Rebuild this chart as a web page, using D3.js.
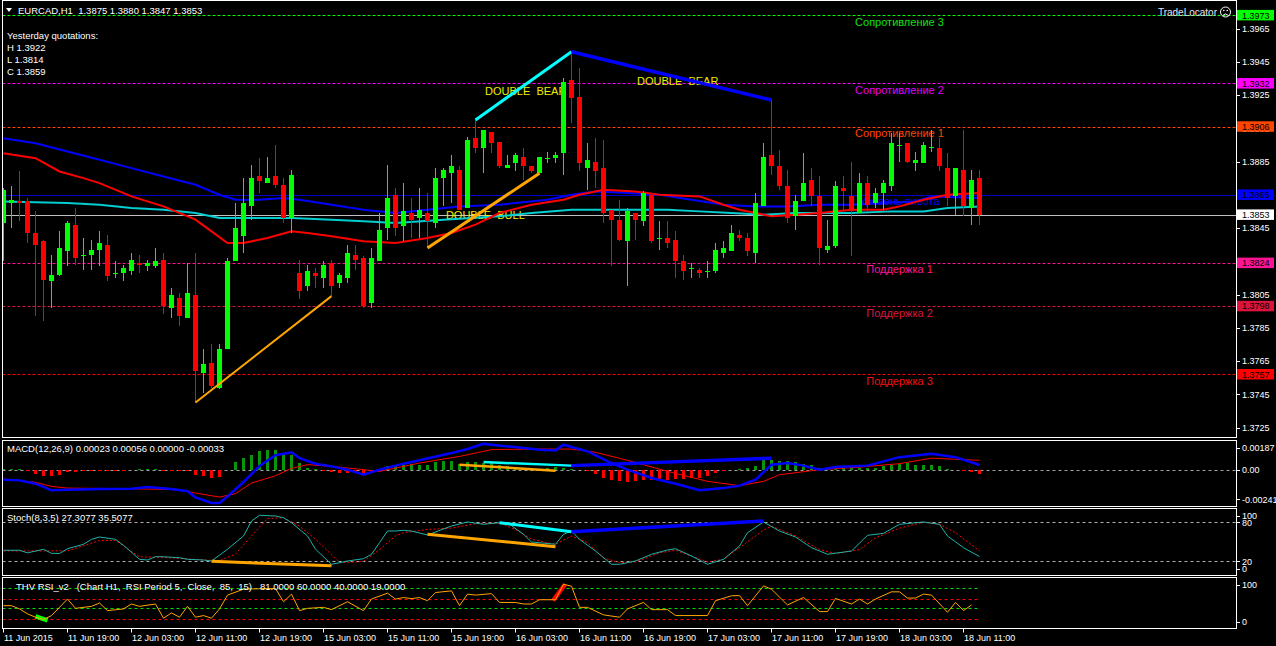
<!DOCTYPE html>
<html><head><meta charset="utf-8">
<script src="https://cdn.jsdelivr.net/npm/d3@7"></script>
<style>
html,body{margin:0;padding:0;background:#000;}
svg{display:block;}
text{font-family:"Liberation Sans",Arial,sans-serif;}
</style></head><body>
<svg id="c" width="1276" height="646"></svg>
<script>
// ---------------- DATA ----------------
const symbolTitle = "EURCAD,H1";
const opens = [1.3848,1.3860,1.3861,1.3861,1.3842,1.3837,1.3813,1.3817,1.3831,1.3847,
1.3829,1.3829,1.3832,1.3835,1.3818,1.3818,1.3819,1.3824,1.3822,1.3822,
1.3826,1.3797,1.3803,1.3791,1.3805,1.3758,1.3764,1.3749,1.3772,1.3825,
1.3840,1.3858,1.3876,1.3872,1.3876,1.3871,1.3851,1.3818,1.3810,1.3818,
1.3815,1.3824,1.3812,1.3815,1.3829,1.3827,1.3800,1.3825,1.3845,1.3865,
1.3846,1.3854,1.3851,1.3854,1.3848,1.3875,1.3878,1.3880,1.3857,1.3899,
1.3893,1.3903,1.3897,1.3881,1.3884,1.3888,1.3882,1.3878,1.3887,1.3887,
1.3890,1.3934,1.3924,1.3881,1.3885,1.3881,1.3856,1.3850,1.3837,1.3854,
1.3849,1.3865,1.3839,1.3839,1.3838,1.3825,1.3821,1.3820,1.3819,1.3819,
1.3830,1.3831,1.3841,1.3839,1.3830,1.3858,1.3889,1.3882,1.3870,1.3852,
1.3861,1.3874,1.3864,1.3832,1.3834,1.3869,1.3864,1.3854,1.3872,1.3860,
1.3866,1.3870,1.3895,1.3896,1.3884,1.3884,1.3894,1.3893,1.3881,1.3864,
1.3880,1.3857,1.3875];
const highs = [1.3869,1.3870,1.3879,1.3863,1.3855,1.3838,1.3829,1.3843,1.3849,1.3857,
1.3839,1.3838,1.3843,1.3841,1.3825,1.3823,1.3830,1.3829,1.3826,1.3833,
1.3830,1.3809,1.3806,1.3824,1.3830,1.3772,1.3775,1.3775,1.3827,1.3860,
1.3875,1.3883,1.3887,1.3888,1.3895,1.3875,1.3880,1.3826,1.3823,1.3821,
1.3825,1.3826,1.3818,1.3835,1.3835,1.3828,1.3833,1.3854,1.3883,1.3869,
1.3872,1.3863,1.3869,1.3866,1.3881,1.3881,1.3889,1.3882,1.3900,1.3910,
1.3904,1.3903,1.3897,1.3889,1.3890,1.3893,1.3882,1.3888,1.3891,1.3891,
1.3935,1.3951,1.3941,1.3896,1.3899,1.3898,1.3856,1.3862,1.3857,1.3854,
1.3867,1.3865,1.3849,1.3849,1.3843,1.3829,1.3824,1.3821,1.3825,1.3836,
1.3837,1.3847,1.3844,1.3842,1.3866,1.3896,1.3922,1.3892,1.3880,1.3865,
1.3890,1.3881,1.3876,1.3850,1.3873,1.3876,1.3885,1.3878,1.3876,1.3869,
1.3874,1.3902,1.3902,1.3896,1.3891,1.3897,1.3904,1.3899,1.3890,1.3881,
1.3904,1.3880,1.3880];
const lows = [1.3825,1.3845,1.3849,1.3836,1.3792,1.3789,1.3797,1.3816,1.3822,1.3823,
1.3820,1.3820,1.3822,1.3813,1.3815,1.3813,1.3817,1.3818,1.3819,1.3821,
1.3793,1.3791,1.3786,1.3791,1.3740,1.3746,1.3749,1.3748,1.3772,1.3825,
1.3830,1.3850,1.3866,1.3872,1.3869,1.3848,1.3842,1.3802,1.3807,1.3809,
1.3809,1.3804,1.3809,1.3812,1.3820,1.3797,1.3797,1.3825,1.3838,1.3840,
1.3837,1.3839,1.3839,1.3833,1.3845,1.3858,1.3860,1.3856,1.3857,1.3890,
1.3878,1.3890,1.3881,1.3881,1.3879,1.3874,1.3878,1.3878,1.3884,1.3884,
1.3877,1.3908,1.3879,1.3868,1.3869,1.3848,1.3822,1.3837,1.3810,1.3838,
1.3846,1.3836,1.3832,1.3833,1.3815,1.3814,1.3815,1.3815,1.3815,1.3818,
1.3827,1.3831,1.3837,1.3828,1.3824,1.3858,1.3877,1.3868,1.3848,1.3844,
1.3861,1.3858,1.3823,1.3830,1.3833,1.3856,1.3828,1.3854,1.3855,1.3857,
1.3856,1.3867,1.3885,1.3884,1.3879,1.3884,1.3891,1.3879,1.3858,1.3853,
1.3852,1.3847,1.3847];
const closes = [1.3868,1.3862,1.3860,1.3842,1.3835,1.3814,1.3817,1.3833,1.3848,1.3827,
1.3829,1.3832,1.3836,1.3816,1.3818,1.3821,1.3826,1.3823,1.3824,1.3825,
1.3798,1.3805,1.3792,1.3806,1.3759,1.3763,1.3750,1.3772,1.3825,1.3845,
1.3860,1.3875,1.3873,1.3875,1.3871,1.3851,1.3877,1.3807,1.3819,1.3816,
1.3823,1.3810,1.3817,1.3830,1.3826,1.3798,1.3827,1.3844,1.3863,1.3845,
1.3855,1.3850,1.3856,1.3849,1.3875,1.3880,1.3882,1.3856,1.3898,1.3893,
1.3904,1.3896,1.3882,1.3883,1.3889,1.3882,1.3879,1.3888,1.3887,1.3889,
1.3933,1.3923,1.3884,1.3886,1.3879,1.3854,1.3850,1.3838,1.3855,1.3850,
1.3866,1.3837,1.3839,1.3836,1.3825,1.3819,1.3821,1.3818,1.3819,1.3832,
1.3833,1.3842,1.3839,1.3831,1.3860,1.3888,1.3882,1.3870,1.3851,1.3861,
1.3872,1.3864,1.3833,1.3834,1.3870,1.3867,1.3855,1.3872,1.3859,1.3866,
1.3872,1.3896,1.3895,1.3885,1.3886,1.3895,1.3894,1.3882,1.3863,1.3881,
1.3858,1.3874,1.3853];

// moving averages [bar index, price]
const maBlue = [[0,1.3899],[4,1.3896],[8,1.3891],[12,1.3886],[16,1.3881],[20,1.3876],[24,1.3871],[27,1.3865],[29,1.3862],[32,1.3862],[35,1.3863],[37,1.3862],[41,1.3859],[45,1.3856],[49,1.3854],[53,1.3856],[57,1.3858],[62,1.3859],[68,1.3862],[71,1.3865],[74,1.3867],[78,1.3866],[82,1.3865],[86,1.3862],[90,1.3859],[94,1.3858],[98,1.3858],[102,1.3859],[106,1.3859],[110,1.3860],[114,1.3861],[116,1.3864],[122,1.3863]];
const maRed = [[0,1.3890],[4,1.3887],[7,1.3879],[10,1.3875],[12,1.3872],[16,1.3864],[20,1.3858],[24,1.3850],[26,1.3843],[28,1.3836],[30,1.3836],[33,1.3839],[36,1.3843],[38,1.3842],[41,1.3840],[45,1.3837],[49,1.3836],[53,1.3839],[56,1.3842],[59,1.3847],[62,1.3854],[66,1.3859],[70,1.3862],[72,1.3865],[75,1.3868],[79,1.3867],[82,1.3865],[87,1.3864],[90,1.3859],[92,1.3856],[96,1.3852],[99,1.3853],[102,1.3854],[106,1.3856],[110,1.3856],[112,1.3858],[115,1.3862],[118,1.3865],[122,1.3866]];
const maCyan = [[0,1.3861],[8,1.3860],[12,1.3859],[16,1.3857],[20,1.3856],[24,1.3854],[27,1.3851],[30,1.3851],[36,1.3851],[41,1.3850],[45,1.3849],[49,1.3848],[55,1.3850],[62,1.3852],[66,1.3854],[71,1.3856],[78,1.3856],[83,1.3856],[87,1.3855],[91,1.3854],[95,1.3853],[99,1.3854],[106,1.3854],[111,1.3855],[115,1.3855],[118,1.3857],[122,1.3858]];

// levels
const levelPrices = [1.3973, 1.3932, 1.3906, 1.3865, 1.3824, 1.3798, 1.3757];
const levelNames = ["Сопротивление 3","Сопротивление 2","Сопротивление 1","Уровень пивота","Поддержка 1","Поддержка 2","Поддержка 3"];
const bidPrice = 1.3853;
const priceTicks = [1.3965,1.3945,1.3925,1.3905,1.3885,1.3865,1.3845,1.3825,1.3805,1.3785,1.3765,1.3745,1.3725];
const yesterdayLabels = ["H","L","C"];
const yesterdayValues = [1.3922, 1.3814, 1.3859];

// chart objects (trend lines) [bar, price]
const bullLine1 = [[24,1.3740],[41,1.3804]];
const bullLine2 = [[53,1.3833],[67,1.3878]];
const bearLine1 = [[59,1.3910],[71,1.3951]];
const bearLine2 = [[71,1.3951],[96,1.3922]];
const annoText = ["DOUBLE  BEAR","DOUBLE  BEAR","DOUBLE  BULL"];
const annoAt = [[60.2,1.3925],[79.2,1.3931],[55.3,1.38505]];

// time axis
const tickIdx = [0,8,16,24,32,40,48,56,64,72,80,88,96,104,112,120];
const tickLabels = ["11 Jun 2015","11 Jun 19:00","12 Jun 03:00","12 Jun 11:00","12 Jun 19:00","15 Jun 03:00","15 Jun 11:00","15 Jun 19:00","16 Jun 03:00","16 Jun 11:00","16 Jun 19:00","17 Jun 03:00","17 Jun 11:00","17 Jun 19:00","18 Jun 03:00","18 Jun 11:00"];

// MACD
const macdTitle = "MACD(12,26,9) 0.00023 0.00056 0.00000 -0.00033";
const macdHist = [0.00003,0.00003,0.00002,-0.00014,-0.00033,-0.00049,-0.00049,-0.00041,-0.00022,-0.00016,
-0.00014,-0.00014,-0.00014,-0.00011,-0.00011,-0.00008,-0.00005,0.00005,0.00008,0.00005,
-0.00008,-0.00011,-0.00014,-0.00008,-0.00043,-0.00054,-0.00068,-0.00060,-0.00003,0.00060,
0.00095,0.00122,0.00149,0.00157,0.00157,0.00122,0.00122,0.00054,0.00014,0.00005,
-0.00014,-0.00022,-0.00027,-0.00027,-0.00022,-0.00033,-0.00022,0.00003,0.00027,0.00041,
0.00041,0.00046,0.00041,0.00041,0.00060,0.00068,0.00068,0.00049,0.00060,0.00060,
0.00054,0.00054,0.00041,0.00033,0.00022,0.00014,0.00011,0.00008,0.00014,0.00019,
0.00016,0.00005,-0.00005,-0.00014,-0.00033,-0.00068,-0.00081,-0.00095,-0.00100,-0.00089,
-0.00081,-0.00081,-0.00081,-0.00081,-0.00076,-0.00076,-0.00068,-0.00068,-0.00049,-0.00027,
-0.00014,-0.00005,0.00008,0.00014,0.00033,0.00081,0.00081,0.00068,0.00068,0.00060,
0.00049,0.00041,0.00014,0.00005,0.00008,0.00011,0.00014,0.00014,0.00011,0.00014,
0.00027,0.00041,0.00049,0.00054,0.00041,0.00041,0.00041,0.00027,0.00003,-0.00005,
-0.00014,-0.00022,-0.00033];
const macdMain = [[0,-0.00081],[2,-0.00087],[4,-0.00114],[6,-0.00168],[8,-0.00163],[12,-0.00158],[16,-0.00155],[18,-0.00141],[21,-0.00158],[23,-0.00176],[24,-0.00225],[26,-0.00271],[27,-0.00271],[28,-0.00217],[30,-0.00100],[32,0.00030],[34,0.00118],[36,0.00141],[37,0.00094],[39,0.00049],[41,0.00027],[43,0],[45,-0.00041],[47,0],[50,0.00049],[52,0.00076],[56,0.00135],[58,0.00168],[60,0.00211],[62,0.00195],[64,0.00184],[67,0.00163],[69,0.00157],[70,0.00203],[71,0.00184],[73,0.00149],[76,0.00054],[78,0],[81,-0.00068],[84,-0.00114],[87,-0.00168],[90,-0.00150],[92,-0.00130],[94,-0.00081],[96,0.00041],[98,0.00054],[100,0.00033],[102,0],[104,0.00021],[108,0.00033],[112,0.00102],[116,0.00130],[119,0.00102],[122,0.00038]];
const macdSignal = [[0,-0.00076],[4,-0.00103],[6,-0.00136],[8,-0.00150],[16,-0.00155],[22,-0.00163],[24,-0.00190],[27,-0.00223],[29,-0.00195],[31,-0.00109],[34,-0.00049],[36,0.00011],[38,0.00041],[41,0.00027],[45,0],[47,-0.00014],[50,0.00027],[52,0.00054],[57,0.00108],[61,0.00163],[66,0.00168],[71,0.00168],[74,0.00141],[78,0.00076],[83,-0.00014],[88,-0.00095],[92,-0.00130],[95,-0.00095],[97,-0.00041],[102,0],[107,0.00021],[112,0.00049],[116,0.00094],[122,0.00076]];
const macdOrange = [[57,0.00041],[69,-0.00008]];
const macdCyan = [[60,0.00062],[71,0.00033]];
const macdBlue = [[71,0.00033],[96,0.00094]];
const macdTicks = [0.00187, 0, -0.00241];
const macdTickLabels = ["0.00187","0.00","-0.00241"];

// Stochastic
const stochTitle = "Stoch(8,3,5) 27.3077 35.5077";
const stochMain = [[0,37],[2,37],[3,33],[5,38.5],[6,32.3],[7,32],[8,39.4],[10,46.2],[11,53.8],[12,57.4],[14,53.8],[15,44.6],[17,23.1],[18,22],[19,27.1],[20,27],[22,25.5],[23,23.1],[25,22],[26,20.5],[28,38.5],[30,58.9],[31,82],[32,90.8],[34,89.7],[35,87.1],[36,79.4],[38,58.9],[39,38.5],[41,15.4],[42,17.8],[43,20.5],[45,24],[46,30.8],[47,48.6],[48,66.6],[49,66.6],[50,67.7],[51,66.6],[53,60.5],[56,74.3],[58,80.5],[60,76.9],[62,79.4],[63,79.4],[65,61.5],[66,49.7],[69,46.2],[70,61.5],[71,66.6],[72,53.8],[74,35.8],[76,15.4],[77,15.4],[79,20.5],[81,30.8],[83,37.4],[84,39.4],[86,28.2],[88,15.4],[90,23.1],[92,43.5],[93,64],[95,80.5],[97,66.6],[99,57.4],[101,40.9],[103,30.8],[106,35.8],[108,60],[110,63],[112,76.9],[115,80.5],[117,76.9],[118,58.9],[120,40.9],[122,27.3]];
const stochSignal = [[0,36],[4,36],[8,36],[12,52],[14,52],[17,27],[20,26],[25,22],[27,21],[29,31],[31,59],[33,86],[35,87],[37,74],[39,54],[41,30],[42,18],[44,19],[45,20],[47,38],[49,59],[50,64],[53,69],[56,71],[59,78],[62,79],[64,69],[66,54],[69,46],[71,59],[73,49],[75,25],[77,18],[79,19],[82,33],[84,37],[86,28],[88,19],[90,23],[93,50],[95,68],[96,74],[99,59],[102,38],[104,32],[107,38],[109,56],[112,71],[115,80],[117,77],[119,64],[122,36]];
const stochLevels = [80, 20];
const stochOrange1 = [[26,20],[41,13]];
const stochOrange2 = [[53,61.5],[69,42.5]];
const stochCyan = [[62,79.4],[71,65.5]];
const stochBlue = [[71,65.5],[95,82]];
const stochTicks = [100, 80, 20, 0];

// RSI
const rsiTitle = "THV RSI_v2   (Chart H1,  RSI Period 5,  Close,  85,  15)   81.0000 60.0000 40.0000 19.0000";
const rsiVals = [[0,45.6],[1,45.6],[2,39],[3,29],[4,22.2],[5,17.6],[6,25.6],[8,59],[9,40.2],[11,44.2],[12,51],[13,35.6],[15,39],[16,49],[17,44.2],[19,49],[20,20.2],[21,31],[22,22.2],[23,44.2],[24,22.2],[25,25.6],[26,20.2],[27,39],[28,67],[30,79],[33,80.2],[34,80.2],[35,53.6],[36,69],[37,35.6],[38,40.2],[40,42.2],[41,37.6],[43,53.6],[45,35.6],[46,59],[48,71],[49,59],[50,62],[51,60],[52,62],[53,55.6],[54,72.2],[56,75.6],[57,45.6],[58,69],[59,67],[61,70],[62,52.2],[64,52],[65,49],[66,49],[67,57.6],[69,57.6],[70,89],[71,85],[72,42.2],[73,42.2],[75,27],[77,22.2],[78,39],[80,52.2],[81,37.6],[83,37.6],[84,25.6],[88,25.6],[89,55.6],[91,65.6],[92,66],[93,45.6],[95,85.6],[96,79],[98,47],[100,62.2],[102,33.6],[103,33.6],[104,60.2],[106,49],[107,59],[108,49],[109,59],[111,73.6],[112,73.6],[113,61],[114,61],[115,69],[116,67],[118,32.2],[119,52.2],[120,35.6],[121,47]];
const rsiLevels = [81, 60, 40, 19];
const rsiOversold = [[4,24],[5.5,16]];
const rsiOverbought = [[68.7,56],[70.2,89]];
const rsiTicks = [100, 0];

// ---------------- DRAW ----------------
const svg = d3.select("#c");
const L = 2.5, R = 1236.5;
const P = {main:[0.5,437.5], macd:[440.5,506.5], stoch:[508.5,575.5], rsi:[577.5,628.5]};
const x = d3.scaleLinear().domain([0,154]).range([3.5, 3.5+8*154]);
const yP = d3.scaleLinear().domain([1.3725,1.3965]).range([427.5,28.5]);
const yM = d3.scaleLinear().domain([-0.00241,0.00187]).range([499.3,446.7]);
const yS = d3.scaleLinear().domain([0,100]).range([574.3,509.3]);
const yR = d3.scaleLinear().domain([0,100]).range([628.2,578.8]);

svg.append("rect").attr("width",1276).attr("height",646).attr("fill","#000");
const defs = svg.append("defs");
Object.entries(P).forEach(([k,[t,b]])=>{
  defs.append("clipPath").attr("id","clip-"+k).append("rect")
    .attr("x",L+0.5).attr("y",t+0.5).attr("width",R-L-1).attr("height",b-t-1);
});
const crisp = v => Math.round(v)+0.5;

// ---- main panel ----
const gm = svg.append("g").attr("clip-path","url(#clip-main)");
const levelColors = ["#00ff00","#ff00ff","#ff4500","#0000cd","#ff1493","#dc143c","#ff0000"];
const levelTextColors = ["#10e010","#e000ff","#ff4500","#0000ff","#ff1493","#dc143c","#f01010"];
levelPrices.forEach((p,k)=>{
  gm.append("line").attr("x1",L).attr("x2",R).attr("y1",crisp(yP(p))).attr("y2",crisp(yP(p)))
    .attr("stroke",levelColors[k]).attr("stroke-width",1)
    .attr("stroke-dasharray", k===3 ? null : "3,2");
});
gm.append("line").attr("x1",L).attr("x2",R).attr("y1",crisp(yP(bidPrice))).attr("y2",crisp(yP(bidPrice)))
  .attr("stroke","#c0c0c0");
levelPrices.forEach((p,k)=>{
  gm.append("text").attr("x",x(112)).attr("y",yP(p)+10.5).attr("text-anchor","middle")
    .attr("font-size",11).attr("fill",levelTextColors[k]).text(levelNames[k]);
});
annoText.forEach((t,k)=>{
  gm.append("text").attr("x",x(annoAt[k][0])).attr("y",yP(annoAt[k][1]))
    .attr("font-family","DejaVu Sans Mono, monospace").attr("font-size",11)
    .style("white-space","pre").attr("fill","#eeee00").text(t);
});

const lineP = d3.line().x(d=>x(d[0])).y(d=>yP(d[1]));
[[maCyan,"#00ced1"],[maBlue,"#0000ff"],[maRed,"#ff0000"]].forEach(([d,c])=>{
  gm.append("path").attr("d",lineP(d)).attr("fill","none").attr("stroke",c).attr("stroke-width",2);
});

const idx = d3.range(opens.length);
const cg = gm.append("g").attr("shape-rendering","crispEdges");
cg.selectAll("line.w").data(idx).join("line")
  .attr("x1",i=>Math.floor(x(i))+0.5).attr("x2",i=>Math.floor(x(i))+0.5)
  .attr("y1",i=>yP(highs[i])).attr("y2",i=>yP(lows[i]))
  .attr("stroke",i=>closes[i]>=opens[i]?"#00ff00":"#ff0000").attr("stroke-width",1);
cg.selectAll("rect.b").data(idx).join("rect")
  .attr("x",i=>Math.floor(x(i))-2).attr("width",5)
  .attr("y",i=>yP(Math.max(opens[i],closes[i])))
  .attr("height",i=>Math.max(1,Math.abs(yP(opens[i])-yP(closes[i]))))
  .attr("fill",i=>closes[i]>=opens[i]?"#00ff00":"#ff0000");

[[bullLine1,"#ffa500",2],[bullLine2,"#ffa500",3],[bearLine1,"#00ffff",3],[bearLine2,"#0000ff",3.5]].forEach(([d,c,w])=>{
  gm.append("path").attr("d",lineP(d)).attr("stroke",c).attr("stroke-width",w).attr("fill","none");
});

// ---- MACD ----
const gmc = svg.append("g").attr("clip-path","url(#clip-macd)");
gmc.append("line").attr("x1",L).attr("x2",R).attr("y1",crisp(yM(0))).attr("y2",crisp(yM(0)))
  .attr("stroke","#a0a0a0").attr("stroke-dasharray","3,3");
gmc.append("g").attr("shape-rendering","crispEdges").selectAll("rect").data(idx).join("rect")
  .attr("x",i=>Math.floor(x(i))-1).attr("width",3)
  .attr("y",i=>Math.min(yM(0),yM(macdHist[i])))
  .attr("height",i=>Math.abs(yM(macdHist[i])-yM(0)))
  .attr("fill",i=>macdHist[i]>=0?"#0a960a":"#ff0000");
const lineM = d3.line().x(d=>x(d[0])).y(d=>yM(d[1]));
gmc.append("path").attr("d",lineM(macdSignal)).attr("fill","none").attr("stroke","#ff0000").attr("stroke-width",1);
gmc.append("path").attr("d",lineM(macdMain)).attr("fill","none").attr("stroke","#0000ff").attr("stroke-width",2.5);
[[macdOrange,"#ffa500",2.5],[macdCyan,"#00ffff",2.5],[macdBlue,"#0000ff",3.5]].forEach(([d,c,w])=>{
  gmc.append("path").attr("d",lineM(d)).attr("stroke",c).attr("stroke-width",w).attr("fill","none");
});

// ---- Stoch ----
const gs = svg.append("g").attr("clip-path","url(#clip-stoch)");
stochLevels.forEach(v=>{
  gs.append("line").attr("x1",L).attr("x2",R).attr("y1",crisp(yS(v))).attr("y2",crisp(yS(v)))
    .attr("stroke","#b0b0b0").attr("stroke-dasharray","3,3");
});
const lineS = d3.line().x(d=>x(d[0])).y(d=>yS(d[1]));
gs.append("path").attr("d",lineS(stochSignal)).attr("fill","none").attr("stroke","#ff0000").attr("stroke-dasharray","2,2");
gs.append("path").attr("d",lineS(stochMain)).attr("fill","none").attr("stroke","#20b2aa").attr("stroke-width",1);
[[stochOrange1,"#ffa500",3],[stochOrange2,"#ffa500",3],[stochCyan,"#00ffff",3],[stochBlue,"#0000ff",3.5]].forEach(([d,c,w])=>{
  gs.append("path").attr("d",lineS(d)).attr("stroke",c).attr("stroke-width",w).attr("fill","none");
});

// ---- RSI ----
const gr = svg.append("g").attr("clip-path","url(#clip-rsi)");
const rsiLevelColors = ["#00dd00","#ff0000","#00dd00","#ff0000"];
rsiLevels.forEach((v,k)=>{
  gr.append("line").attr("x1",L).attr("x2",x(122)).attr("y1",crisp(yR(v))).attr("y2",crisp(yR(v)))
    .attr("stroke",rsiLevelColors[k]).attr("stroke-dasharray","3,3");
});
const lineR = d3.line().x(d=>x(d[0])).y(d=>yR(d[1]));
gr.append("path").attr("d",lineR(rsiOversold)).attr("stroke","#00ff00").attr("stroke-width",4.5).attr("fill","none");
gr.append("path").attr("d",lineR(rsiOverbought)).attr("stroke","#ff0000").attr("stroke-width",4.5).attr("fill","none");
gr.append("path").attr("d",lineR(rsiVals)).attr("fill","none").attr("stroke","#ffa500").attr("stroke-width",1);

// ---- borders ----
const bg = svg.append("g").attr("shape-rendering","crispEdges");
Object.values(P).forEach(([t,b])=>{
  bg.append("rect").attr("x",L).attr("y",t).attr("width",R-L).attr("height",b-t)
    .attr("fill","none").attr("stroke","#ffffff").attr("stroke-width",1);
});

// ---- right axis ----
const ag = svg.append("g");
function axisLabel(y, s){
  ag.append("line").attr("x1",R).attr("x2",R+3.5).attr("y1",crisp(y)).attr("y2",crisp(y)).attr("stroke","#fff");
  ag.append("text").attr("x",1242).attr("y",y+3.3).attr("font-size",9).attr("fill","#fff").text(s);
}
priceTicks.forEach(p=>axisLabel(yP(p), p.toFixed(4)));
const boxPrices = levelPrices.concat([bidPrice]);
const boxColors = levelColors.slice(0,3).concat(["#0000ff"]).concat(levelColors.slice(4)).concat(["#ffffff"]);
boxPrices.forEach((p,k)=>{
  const y = yP(p);
  ag.append("rect").attr("x",1237).attr("y",y-5.3).attr("width",37).attr("height",10.5).attr("fill",boxColors[k]);
  ag.append("text").attr("x",1242).attr("y",y+3.3).attr("font-size",9).attr("fill","#000").text(p.toFixed(4));
});
const clampY = (y,[t,b]) => Math.max(t+7, Math.min(b-7, y));
macdTicks.forEach((v,k)=>axisLabel(clampY(yM(v),P.macd), macdTickLabels[k]));
stochTicks.forEach(v=>axisLabel(clampY(yS(v),P.stoch), String(v)));
rsiTicks.forEach(v=>axisLabel(clampY(yR(v),P.rsi), String(v)));

// ---- time axis ----
tickIdx.forEach((i,k)=>{
  const tx = Math.floor(x(i))+0.5;
  ag.append("line").attr("x1",tx).attr("x2",tx).attr("y1",629).attr("y2",632.5).attr("stroke","#fff");
  ag.append("text").attr("x",tx+0.5).attr("y",640.5).attr("font-size",9).attr("fill","#fff").text(tickLabels[k]);
});

// ---- titles ----
ag.append("path").attr("d","M6,8 L12,8 L9,12 Z").attr("fill","#fff");
const last = opens.length-1;
ag.append("text").attr("x",18).attr("y",14).attr("font-size",9.5).attr("fill","#fff").style("white-space","pre")
  .text(symbolTitle+"  "+[opens[last],highs[last],lows[last],closes[last]].map(v=>v.toFixed(4)).join(" "));
ag.append("text").attr("x",7).attr("y",38.5).attr("font-size",9.5).attr("fill","#fff").text("Yesterday quotations:");
yesterdayLabels.forEach((l,k)=>{
  ag.append("text").attr("x",7).attr("y",51+k*11.8).attr("font-size",9.5).attr("fill","#fff")
    .text(l+" "+yesterdayValues[k].toFixed(4));
});
ag.append("text").attr("x",7).attr("y",452).attr("font-size",9.5).attr("fill","#fff").text(macdTitle);
ag.append("text").attr("x",7).attr("y",520.5).attr("font-size",9.5).attr("fill","#fff").text(stochTitle);
ag.append("text").attr("x",16).attr("y",590).attr("font-size",9.5).attr("fill","#fff").style("white-space","pre").text(rsiTitle);

// TradeLocator badge
ag.append("text").attr("x",1217).attr("y",16).attr("text-anchor","end").attr("font-size",10).attr("fill","#e6e6f0").text("TradeLocator");
ag.append("circle").attr("cx",1225.5).attr("cy",12).attr("r",5).attr("fill","none").attr("stroke","#fff");
ag.append("circle").attr("cx",1223.8).attr("cy",10.5).attr("r",0.8).attr("fill","#fff");
ag.append("circle").attr("cx",1227.2).attr("cy",10.5).attr("r",0.8).attr("fill","#fff");
ag.append("path").attr("d","M1223.1,15.2 Q1225.5,12.6 1227.9,15.2").attr("fill","none").attr("stroke","#fff");
</script>
</body></html>
